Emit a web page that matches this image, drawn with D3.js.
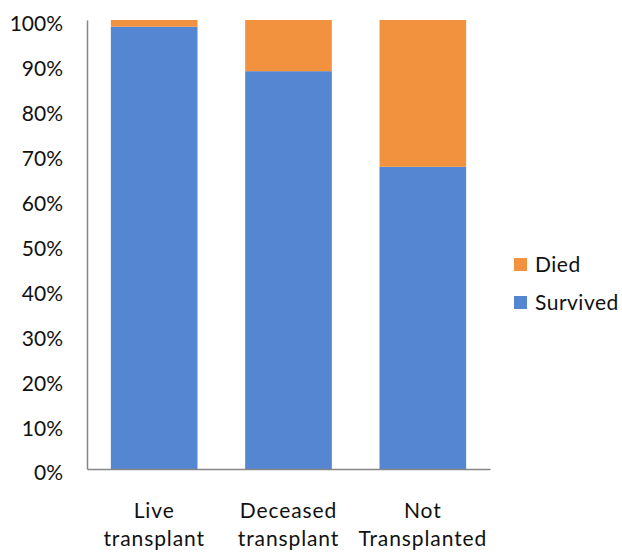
<!DOCTYPE html>
<html>
<head>
<meta charset="utf-8">
<script src="https://cdn.jsdelivr.net/npm/d3@7"></script>
<style>
  html, body { margin: 0; padding: 0; background: #fff; }
  text { font-family: Lato, "Open Sans", sans-serif; fill: #111; }
</style>
</head>
<body>
<svg id="chart" width="622" height="552"></svg>
<script>
// Outcome shares by transplant group
const categories = [["Live", "transplant"], ["Deceased", "transplant"], ["Not", "Transplanted"]];
const survived = [0.985, 0.886, 0.673];
const died = [0.015, 0.114, 0.327];
const seriesNames = ["Died", "Survived"];
const yTicks = [0, 0.1, 0.2, 0.3, 0.4, 0.5, 0.6, 0.7, 0.8, 0.9, 1.0];

const colors = { Survived: "#5586D2", Died: "#F2923F" };

const svg = d3.select("#chart");
const plot = { left: 87, right: 490, top: 20, bottom: 469 };

const x = d3.scaleBand()
  .domain(d3.range(categories.length))
  .range([plot.left, plot.right])
  .paddingInner(0.355)
  .paddingOuter(0.1775);

const y = d3.scaleLinear().domain([0, 1]).range([plot.bottom, plot.top]);

const rows = categories.map((c, i) => ({ i, Survived: survived[i], Died: died[i] }));
const stack = d3.stack().keys(["Survived", "Died"])(rows);

svg.append("g")
  .selectAll("g")
  .data(stack)
  .join("g")
  .attr("fill", d => colors[d.key])
  .selectAll("rect")
  .data(d => d)
  .join("rect")
  .attr("x", d => x(d.data.i))
  .attr("width", x.bandwidth())
  .attr("y", d => y(d[1]))
  .attr("height", d => y(d[0]) - y(d[1]));

// Y axis: line plus percentage labels, no tick marks
const yAxis = d3.axisLeft(y)
  .tickValues(yTicks)
  .tickFormat(d3.format(".0%"))
  .tickSize(0)
  .tickPadding(24);
const gy = svg.append("g").attr("transform", `translate(${plot.left},0)`).call(yAxis);
gy.select(".domain").attr("stroke", "#868686").attr("stroke-width", 1.5);
gy.selectAll("text")
  .attr("font-family", "Lato, sans-serif")
  .attr("font-size", 21)
  .attr("fill", "#111")
  .attr("dy", "0.52em");

// X axis baseline and two-line category labels
const xAxis = d3.axisBottom(x).tickSize(0).tickFormat("");
const gx = svg.append("g").attr("transform", `translate(0,${plot.bottom})`).call(xAxis);
gx.select(".domain").attr("stroke", "#868686").attr("stroke-width", 1.5);

const labels = svg.append("g").selectAll("text")
  .data(categories)
  .join("text")
  .attr("text-anchor", "middle")
  .attr("font-size", 21)
  .attr("letter-spacing", "0.9px")
  .attr("x", (d, i) => x(i) + x.bandwidth() / 2);
labels.append("tspan")
  .attr("x", (d, i) => x(i) + x.bandwidth() / 2)
  .attr("y", 518)
  .text(d => d[0]);
labels.append("tspan")
  .attr("x", (d, i) => x(i) + x.bandwidth() / 2)
  .attr("y", 546)
  .text(d => d[1]);

// Legend
const legend = svg.append("g").attr("transform", "translate(514,258)");
const item = legend.selectAll("g")
  .data(seriesNames)
  .join("g")
  .attr("transform", (d, i) => `translate(0,${i * 38})`);
item.append("rect")
  .attr("width", 13).attr("height", 13)
  .attr("fill", d => colors[d]);
item.append("text")
  .attr("x", 21).attr("y", 14)
  .attr("font-size", 21)
  .attr("letter-spacing", "0.5px")
  .text(d => d);
</script>
</body>
</html>
